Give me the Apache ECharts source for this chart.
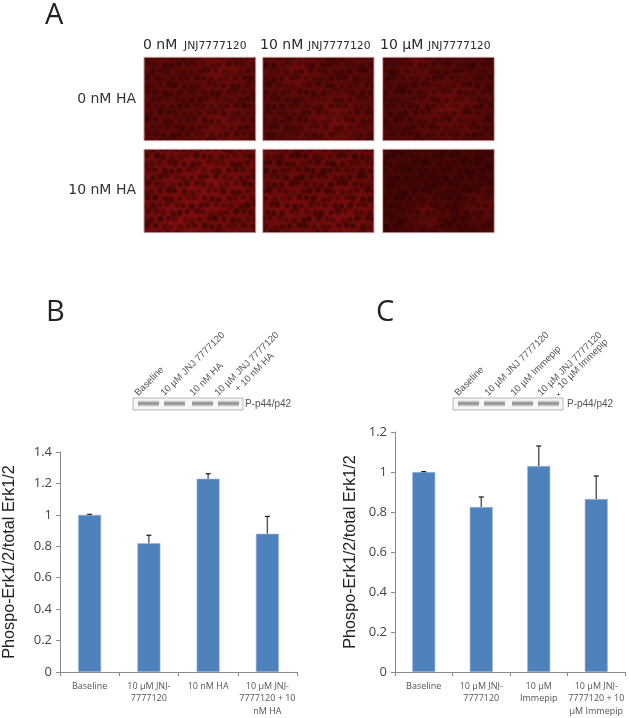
<!DOCTYPE html>
<html><head><meta charset="utf-8">
<style>html,body{margin:0;padding:0;background:#fff}#c{width:629px;height:718px;filter:blur(0.5px)}</style>
<script src="https://cdn.jsdelivr.net/npm/echarts@6/dist/echarts.min.js"></script>
</head><body><div id="c"></div>
<script>
const yAxisTitle = 'Phospo-Erk1/2/total Erk1/2';
const categoriesB = ['Baseline','10 µM JNJ-\n7777120','10 nM HA','10 µM JNJ-\n7777120 + 10\nnM HA'];
const valuesB = [1.0,0.82,1.23,0.88];
const errorTopsB = [1.003,0.87,1.262,0.99];
const categoriesC = ['Baseline','10 µM JNJ-\n7777120','10 µM\nImmepip','10 µM JNJ-\n7777120 + 10\nµM Immepip'];
const valuesC = [1.0,0.825,1.03,0.865];
const errorTopsC = [1.002,0.875,1.13,0.98];
const tickMaxB = 1.4, tickMaxC = 1.2, tickStep = 0.2;
const columnHeads = [['0 nM','JNJ7777120'],['10 nM','JNJ7777120'],['10 µM','JNJ7777120']];
const rowHeads = ['0 nM HA','10 nM HA'];
const blotLabelsB = ['Baseline','10 µM JNJ 7777120','10 nM HA','10 µM JNJ 7777120','+ 10 nM HA'];
const blotLabelsC = ['Baseline','10 µM JNJ 7777120','10 µM Immepip','10 µM JNJ 7777120','10 µM Immepip'];

const BLUE='#4f81bd', AX='#8a8a8a', TXT='#444';
const fmt=v=>String(+v.toFixed(1));

// soft micrograph texture for one panel of section A: tone, brighter patches, dim cell bodies
function micrograph(w,h,tone,glow,cellAlpha,k){
  const c=document.createElement('canvas');c.width=Math.ceil(w);c.height=Math.ceil(h);
  const g=c.getContext('2d');
  g.fillStyle=tone;g.fillRect(0,0,c.width,c.height);
  glow.forEach(b=>{const X=b[0]*w,Y=b[1]*h,R=b[2]*w;const r=g.createRadialGradient(X,Y,0,X,Y,R);
    r.addColorStop(0,'rgba(170,20,20,0.3)');r.addColorStop(1,'rgba(170,20,20,0)');
    g.fillStyle=r;g.fillRect(0,0,c.width,c.height);});
  const step=8;let row=0;
  for(let y=0;y<h+step;y+=step*0.88,row++){
    for(let x=(row%2)*step/2,i=0;x<w+step;x+=step,i++){
      const jx=1.3*Math.sin(i*2.3+row*1.7+k),jy=1.2*Math.sin(i*1.1+row*3.1+k*2);
      const a=cellAlpha*(0.78+0.22*Math.sin(i*0.9+row*1.9+k*3));
      const rad=3.7+0.5*Math.sin(i*3.7+row*0.8+k);
      const X=x+jx,Y=y+jy,r=g.createRadialGradient(X,Y,0,X,Y,rad);
      r.addColorStop(0,`rgba(25,0,0,${a})`);r.addColorStop(.65,`rgba(25,0,0,${a*.75})`);r.addColorStop(1,'rgba(25,0,0,0)');
      g.fillStyle=r;g.beginPath();g.arc(X,Y,rad,0,7);g.fill();
    }
  }
  return c;
}
const colX=[[144,255.7],[262.7,374],[382.7,494.3]], rowY=[[57.3,140.7],[149.3,232.7]];
const panelTone=[['#5a0909',[[.7,.15,.3],[.7,.8,.3]],.5],['#580909',[[.65,.75,.4],[.3,.2,.25]],.5],['#520808',[[.6,.6,.4],[.3,.1,.2]],.52],
                 ['#6c0b0b',[[.55,.45,.45],[.3,.9,.3]],.58],['#660a0a',[[.7,.8,.4],[.2,.7,.3]],.62],['#460606',[[.9,.7,.25],[.4,.8,.25]],.5]];
const gfx=[];
const text=(x,y,t,o={})=>gfx.push({type:'text',x,y,rotation:o.rot||0,style:{text:t,fill:o.c||'#333',
  font:`${o.w||'normal'} ${o.s||14}px ${o.f||'"DejaVu Sans"'}`,align:o.a||'left',verticalAlign:o.v||'middle'}});
rowY.forEach((ry,r)=>colX.forEach((cx,c)=>{
  const w=cx[1]-cx[0],h=ry[1]-ry[0],t=panelTone[r*3+c];
  gfx.push({type:'image',style:{image:micrograph(w,h,t[0],t[1],t[2],r*3+c+1),x:cx[0],y:ry[0],width:w,height:h}});
  gfx.push({type:'rect',shape:{x:cx[0],y:ry[0],width:w,height:h},style:{fill:'none',stroke:'#c9a5a5',lineWidth:1}});
}));
text(45,16,'A',{s:29,f:'"Open Sans"',c:'#222'});
text(46,313,'B',{s:29,f:'"Open Sans"',c:'#222'});
text(376,313,'C',{s:29,f:'"Open Sans"',c:'#222'});
[[143,184],[260,308],[380,428]].forEach((p,i)=>{
  text(p[0],45,columnHeads[i][0],{s:14,c:'#2a2a2a'});
  text(p[1],46,columnHeads[i][1],{s:10.8,c:'#2a2a2a'});
});
text(136,99,rowHeads[0],{s:14,a:'right'});
text(136,190,rowHeads[1],{s:14,a:'right'});

function blot(x0,labels,starts,lab){
  gfx.push({type:'rect',shape:{x:x0,y:398,width:110,height:12},style:{fill:'#f6f6f6',stroke:'#b8b8b8',lineWidth:1}});
  [5,31,59,85].forEach((d,i)=>gfx.push({type:'rect',shape:{x:x0+d,y:400.5,width:21,height:6},
    style:{fill:{type:'linear',x:0,y:0,x2:0,y2:1,colorStops:[{offset:0,color:'#e0e0e0'},{offset:.5,color:'#8e8e8e'},{offset:1,color:'#dedede'}]}}}));
  labels.forEach((t,i)=>text(starts[i][0],starts[i][1],t,{s:9.6,rot:Math.PI/4,f:'"Liberation Sans"',c:'#555',v:'bottom'}));
  text(x0+lab,404,'P-p44/p42',{s:10,f:'"Liberation Sans"',c:'#555'});
}
blot(133,blotLabelsB,[[140,398],[166,398],[195,398],[220,398],[240,394]],112);
blot(453,blotLabelsC,[[460,398],[490,398],[516,398],[543,398],[563,391]],114);
text(556,395,'+',{s:8,f:'"Liberation Sans"',c:'#444'});

function errSeries(idx,tops,vals){
  return {type:'custom',xAxisIndex:idx,yAxisIndex:idx,z:3,data:tops.map((t,i)=>[i,vals[i],t]),
    encode:{x:0,y:[1,2]},
    renderItem(p,api){
      const a=api.coord([api.value(0),api.value(1)]),b=api.coord([api.value(0),api.value(2)]);
      return {type:'group',children:[
        {type:'line',shape:{x1:a[0],y1:a[1],x2:a[0],y2:b[1]},style:{stroke:'#555',lineWidth:1.4}},
        {type:'line',shape:{x1:a[0]-2.5,y1:b[1],x2:a[0]+2.5,y2:b[1]},style:{stroke:'#222',lineWidth:1.3}}]};
    }};
}
const xAx=(i,cats)=>({type:'category',gridIndex:i,data:cats,
  axisLine:{lineStyle:{color:AX,width:1}},axisTick:{show:true,length:4,lineStyle:{color:AX},alignWithLabel:false},
  axisLabel:{interval:0,color:'#555',fontSize:9,fontFamily:'"Open Sans"',lineHeight:12.5,margin:8}});
const yAx=(i,max,gap)=>({type:'value',gridIndex:i,min:0,max,interval:tickStep,
  name:yAxisTitle,nameLocation:'middle',nameGap:gap,nameTextStyle:{color:'#222',fontSize:16.2,fontFamily:'"Liberation Sans"'},
  splitLine:{show:false},axisLine:{show:true,lineStyle:{color:AX}},axisTick:{show:true,length:4,lineStyle:{color:AX}},
  axisLabel:{color:TXT,fontSize:13,fontFamily:'"Open Sans"',margin:8,formatter:fmt}});
const bars=(i,v)=>({type:'bar',xAxisIndex:i,yAxisIndex:i,data:v,barWidth:23,itemStyle:{color:BLUE,borderColor:'#9db9d8',borderWidth:0.6}});

const chart=echarts.init(document.getElementById('c'),null,{width:629,height:718});
chart.setOption({animation:false,backgroundColor:'#fff',
  grid:[{left:60,top:452,width:237,height:220,outerBoundsMode:'none'},{left:395,top:432,width:230,height:240,outerBoundsMode:'none'}],
  xAxis:[xAx(0,categoriesB),xAx(1,categoriesC)],
  yAxis:[yAx(0,tickMaxB,42),yAx(1,tickMaxC,36)],
  series:[bars(0,valuesB),errSeries(0,errorTopsB,valuesB),bars(1,valuesC),errSeries(1,errorTopsC,valuesC)],
  graphic:{elements:gfx}
});
</script></body></html>
